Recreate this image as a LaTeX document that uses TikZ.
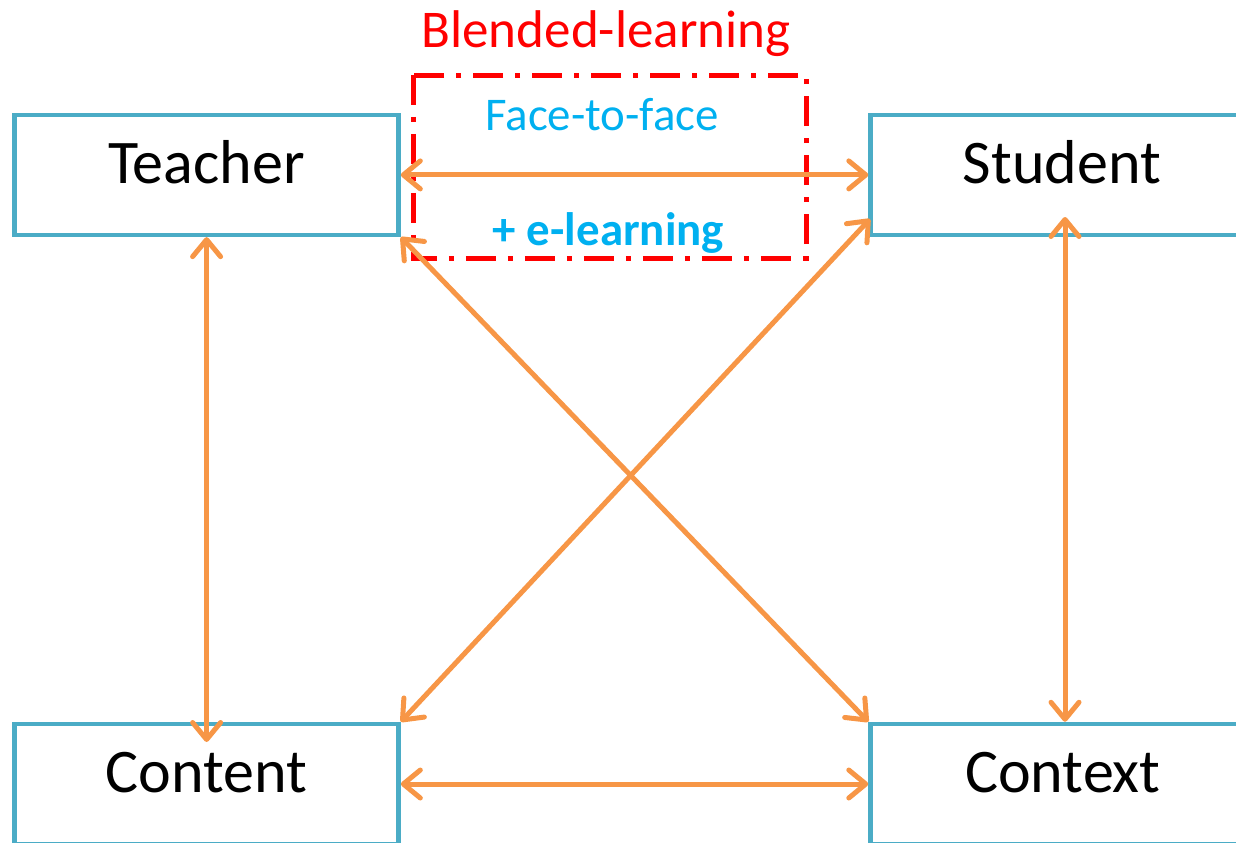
\documentclass[tikz,border=0pt]{standalone}
\usepackage{fontspec}
\setmainfont{Carlito}
\usetikzlibrary{arrows.meta}
\definecolor{boxblue}{HTML}{4BACC6}
\definecolor{arrorange}{HTML}{F79646}
\definecolor{cyantext}{HTML}{00B0F0}
\tikzset{
  box/.style={draw=boxblue, line width=0.09cm, rectangle, minimum width=7.68cm, minimum height=2.4cm, inner sep=0pt},
  boxtext/.style={anchor=base, font=\fontsize{35.3}{40}\selectfont, inner sep=0pt},
  link/.style={draw=arrorange, line width=0.1cm, line cap=round,
    {Straight Barb[length=0.34cm, width=0.56cm, round]}-{Straight Barb[length=0.34cm, width=0.56cm, round]}},
  blendbox/.style={draw=red, line width=0.1cm, dash pattern=on 0.6cm off 0.24cm on 0.1cm off 0.24cm},
}
\begin{document}
\begin{tikzpicture}[x=0.02cm, y=-0.02cm]
\useasboundingbox (0,0) rectangle (1236,842);
\clip (0,0) rectangle (1236,842);
% boxes
\node[box] (teacher) at (206.6,174.9) {};
\node[box] (student) at (1062.5,174.9) {};
\node[box] (content) at (206.6,784) {};
\node[box] (context) at (1062.5,784) {};
\node[boxtext] (teachertxt) at (206.5,183) {Teacher};
\node[boxtext] (studenttxt) at (1062,183) {Student};
\node[boxtext] (contenttxt) at (206.5,792) {Content};
\node[boxtext] (contexttxt) at (1063,792) {Context};
% blended learning box
\draw[blendbox] (413,75) rectangle (806,258);
\node[anchor=base, inner sep=0pt, text=red, font=\fontsize{30.2}{36}\selectfont] (blend) at (606,47) {Blended-learning};
\node[anchor=base, inner sep=0pt, text=cyantext, font=\fontsize{26.7}{32}\selectfont] (f2f) at (602,130) {Face-to-face};
\node[anchor=base, inner sep=0pt, text=cyantext, font=\fontsize{26.7}{32}\selectfont\bfseries] (elearn) at (608.5,245) {+ e-learning};
% connectors
\coordinate (contentin) at (206.6,742);
\coordinate (studentin) at (1065,217);
\coordinate (studentcorner) at (870,219);
\draw[link] (teacher.east) -- (student.west);
\draw[link] (content.east) -- (context.west);
\draw[link] (teacher.south) -- (contentin);
\draw[link] (studentin) -- (studentin |- context.north);
\draw[link] (teacher.south east) -- (context.north west);
\draw[link] (studentcorner) -- (content.north east);
\end{tikzpicture}
\end{document}
